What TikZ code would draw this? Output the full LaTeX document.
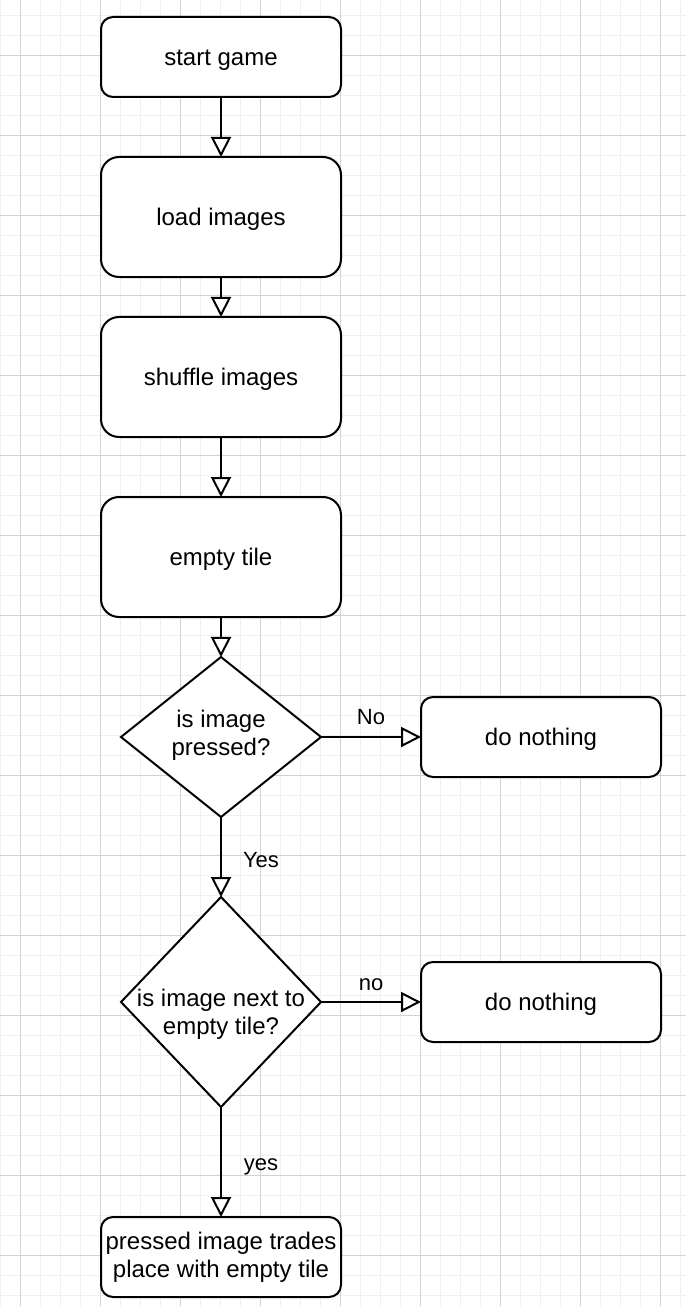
\documentclass[tikz,border=0pt]{standalone}
\usepackage{fontspec}
\setmainfont{Liberation Sans}
\usetikzlibrary{shapes.geometric,arrows.meta}
\definecolor{gridminor}{RGB}{240,240,240}
\definecolor{gridmajor}{RGB}{210,210,210}
\begin{document}
\begin{tikzpicture}[x=1bp,y=-1bp,
  box/.style={draw, fill=white, line width=2bp, inner sep=0pt, outer sep=0pt,
    minimum width=240bp, align=center, font=\fontsize{24bp}{28bp}\selectfont},
  short/.style={minimum height=80bp, rounded corners=12bp},
  tall/.style={minimum height=120bp, rounded corners=18bp},
  oneline/.style={text height=18.5bp, text depth=1bp},
  decision/.style={draw, fill=white, line width=2bp, diamond, inner sep=0pt, outer sep=0pt,
    minimum width=200bp},
  dtext/.style={align=center, font=\fontsize{24bp}{28bp}\selectfont, inner sep=0pt},
  conn/.style={line width=2bp, -{Triangle[fill=white, length=20bp, width=20bp]}},
  elabel/.style={font=\fontsize{22bp}{26bp}\selectfont, inner sep=0pt, anchor=base}]
\useasboundingbox (0,0) rectangle (686,1306);
\begin{scope}
\clip (0,0) rectangle (686,1306);
\fill[white] (0,0) rectangle (686,1306);
\foreach \k in {0,...,34} \draw[gridminor, line width=1bp] ({20*\k+0.5},0) -- ({20*\k+0.5},1306);
\foreach \k in {0,...,64} \draw[gridminor, line width=1bp] (0,{20*\k+15.5}) -- (686,{20*\k+15.5});
\foreach \k in {0,...,8} \draw[gridmajor, line width=1bp] ({80*\k+20.5},0) -- ({80*\k+20.5},1306);
\foreach \k in {0,...,15} \draw[gridmajor, line width=1bp] (0,{80*\k+55.5}) -- (686,{80*\k+55.5});
\end{scope}

\node[box, short, oneline] (start) at (221,57) {start game};
\node[box, tall, oneline] (load) at (221,217) {load images};
\node[box, tall, oneline] (shuffle) at (221,377) {shuffle images};
\node[box, tall, oneline] (empty) at (221,557) {empty tile};
\node[decision, minimum height=160bp,
  label={[name=d1text, dtext, yshift=2bp]center:is image\\pressed?}] (d1) at (221,737) {};
\node[box, short, oneline] (nothing1) at (541,737) {do nothing};
\node[decision, minimum height=210bp,
  label={[name=d2text, dtext, yshift=-12.5bp]center:is image next to\\empty tile?}] (d2) at (221,1002) {};
\node[box, short, oneline] (nothing2) at (541,1002) {do nothing};
\node[box, short] (final) at (221,1257) {pressed image trades\\place with empty tile};

\draw[conn] (start) -- (load);
\draw[conn] (load) -- (shuffle);
\draw[conn] (shuffle) -- (empty);
\draw[conn] (empty) -- (d1);
\draw[conn] (d1) -- node[elabel, yshift=13bp] (lno) {No} (nothing1);
\draw[conn] (d1) -- node[elabel, xshift=40bp, yshift=-10bp] (lyes) {Yes} (d2);
\draw[conn] (d2) -- node[elabel, yshift=12bp] (lno2) {no} (nothing2);
\draw[conn] (d2) -- node[elabel, xshift=40bp, yshift=-8bp] (lyes2) {yes} (final);
\end{tikzpicture}
\end{document}
